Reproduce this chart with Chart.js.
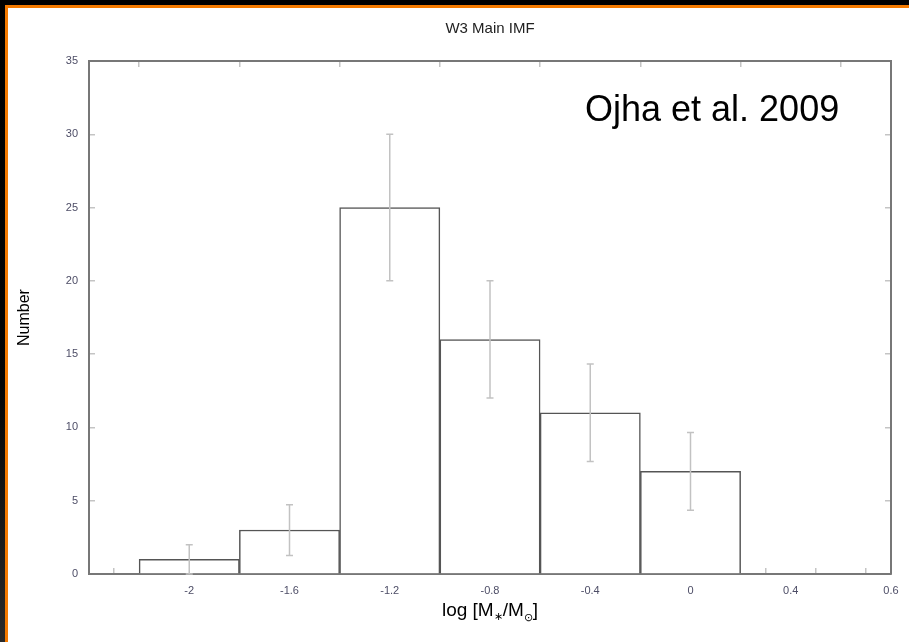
<!DOCTYPE html>
<html>
<head>
<meta charset="utf-8">
<script src="https://cdn.jsdelivr.net/npm/chart.js@4"></script>
<style>
html, body { margin: 0; padding: 0; background: #000; }
#frame { position: relative; width: 909px; height: 642px; background: linear-gradient(#000, #050505 60%, #2a2a2a); overflow: hidden; }
#paper { position: absolute; left: 5px; top: 5px; right: 0; bottom: 0; background: #fff; border-left: 3px solid #f47a00; border-top: 3px solid #f47a00; }
#imf { position: absolute; left: 0; top: 0; }
</style>
</head>
<body>
<div id="frame">
  <div id="paper"></div>
  <canvas id="imf" width="909" height="642"></canvas>
</div>
<script>
// W3 Main IMF histogram, bins of 0.4 dex in log mass
const binCentres = [-2.0, -1.6, -1.2, -0.8, -0.4, 0.0];
const counts     = [1, 3, 25, 16, 11, 7];
const errors     = [1, 1.73, 5, 4, 3.32, 2.65];

const xLabelValues = [-2, -1.6, -1.2, -0.8, -0.4, 0, 0.4, 0.8];
const xLabelTexts  = ['-2', '-1.6', '-1.2', '-0.8', '-0.4', '0', '0.4', '0.6'];

const FONT = "'Liberation Sans', Arial, sans-serif";
const TICK_COLOR = '#4d4d66';
const FRAME = '#777777';
const TICK_MARK = '#c4c4c4';

const points = binCentres.map((x, i) => ({ x, y: counts[i] }));

// error bars + text drawn on top of the bars
const extras = {
    id: 'extras',
    afterDatasetsDraw(chart) {
        const { ctx, scales: { x, y } } = chart;
        ctx.save();
        ctx.strokeStyle = '#c2c2c2';
        ctx.lineWidth = 1.5;
        binCentres.forEach((c, i) => {
            const px = x.getPixelForValue(c);
            const lo = y.getPixelForValue(Math.max(0, counts[i] - errors[i]));
            const hi = y.getPixelForValue(counts[i] + errors[i]);
            ctx.beginPath();
            ctx.moveTo(px, lo); ctx.lineTo(px, hi);
            ctx.moveTo(px - 3.5, hi); ctx.lineTo(px + 3.5, hi);
            ctx.moveTo(px - 3.5, lo); ctx.lineTo(px + 3.5, lo);
            ctx.stroke();
        });
        ctx.restore();
    },
    afterDraw(chart) {
        const { ctx, chartArea: a } = chart;
        ctx.save();
        ctx.fillStyle = '#222';
        ctx.textAlign = 'center';
        ctx.textBaseline = 'alphabetic';
        ctx.font = `15px ${FONT}`;
        ctx.fillText('W3 Main IMF', (a.left + a.right) / 2, 33);

        ctx.fillStyle = '#000';
        ctx.textAlign = 'left';
        ctx.font = `36px ${FONT}`;
        ctx.fillText('Ojha et al. 2009', 585, 121);

        // x axis title with subscripts
        const parts = [
            ['log [M', 19, 0], ['∗', 11, 4], ['/M', 19, 0], ['⊙', 11, 5], [']', 19, 0]
        ];
        let w = 0;
        parts.forEach(p => { ctx.font = `${p[1]}px ${FONT}`; w += ctx.measureText(p[0]).width; });
        let cx = (a.left + a.right) / 2 - w / 2;
        const base = 616;
        parts.forEach(p => {
            ctx.font = `${p[1]}px ${FONT}`;
            ctx.fillText(p[0], cx, base + p[2]);
            cx += ctx.measureText(p[0]).width;
        });
        ctx.restore();
    }
};

const frameAxis = (extra) => Object.assign({
    grid: { display: true, drawOnChartArea: false, drawTicks: true, tickLength: -6, color: TICK_MARK, lineWidth: 1.5 },
    border: { display: true, color: FRAME, width: 2 }
}, extra);

new Chart(document.getElementById('imf'), {
    type: 'bar',
    data: {
        datasets: [{
            data: points,
            xAxisID: 'x',
            yAxisID: 'y',
            backgroundColor: '#ffffff',
            borderColor: '#555555',
            borderWidth: 1.5,
            borderSkipped: 'bottom',
            barThickness: 'flex',
            barPercentage: 1,
            categoryPercentage: 1
        }]
    },
    options: {
        responsive: false,
        animation: false,
        layout: { padding: { top: 61, right: 18, left: 0, bottom: 0 } },
        plugins: { legend: { display: false }, tooltip: { enabled: false } },
        scales: {
            x: frameAxis({
                type: 'linear',
                position: 'bottom',
                offset: false,
                min: -2.4,
                max: 0.8,
                ticks: {
                    stepSize: 0.2,
                    padding: 16,
                    autoSkip: false,
                    maxRotation: 0,
                    color: TICK_COLOR,
                    font: { family: FONT, size: 11 },
                    callback: v => {
                        const k = xLabelValues.findIndex(t => Math.abs(t - v) < 1e-6);
                        return k >= 0 ? xLabelTexts[k] : '';
                    }
                },
                afterFit: s => { s.height = 68; s.paddingLeft = 0; s.paddingRight = 0; }
            }),
            x2: frameAxis({
                type: 'linear',
                position: 'top',
                offset: false,
                min: -2.4,
                max: 0.8,
                ticks: { stepSize: 0.4, display: false },
                afterFit: s => { s.height = 0; s.paddingLeft = 0; s.paddingRight = 0; }
            }),
            y: frameAxis({
                type: 'linear',
                position: 'left',
                min: 0,
                max: 35,
                ticks: { stepSize: 5, padding: 17, color: TICK_COLOR, font: { family: FONT, size: 11 } },
                title: { display: true, text: 'Number', color: '#000', font: { family: FONT, size: 16 }, padding: { top: 15, bottom: 0 } },
                afterFit: s => { s.width = 89; s.paddingTop = 0; s.paddingBottom = 0; }
            }),
            y2: frameAxis({
                type: 'linear',
                position: 'right',
                min: 0,
                max: 35,
                ticks: { stepSize: 5, display: false },
                afterFit: s => { s.width = 0; s.paddingTop = 0; s.paddingBottom = 0; }
            })
        }
    },
    plugins: [extras]
});
</script>
</body>
</html>
